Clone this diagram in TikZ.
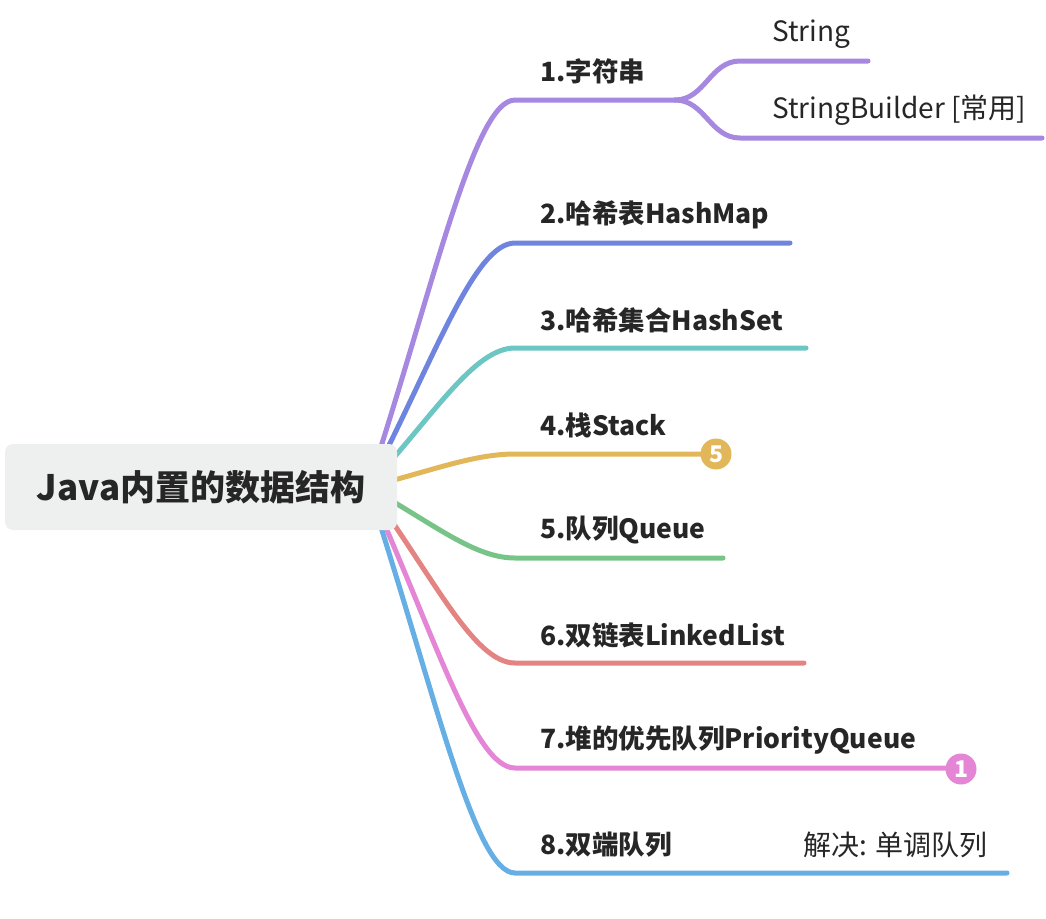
\documentclass[tikz,border=0pt]{standalone}
\usepackage{fontspec}
\setmainfont{Noto Sans CJK SC}
\usetikzlibrary{calc}
\definecolor{txt}{HTML}{262626}
\definecolor{rootfill}{HTML}{EEF0EF}
\definecolor{cA}{HTML}{A688E0}
\definecolor{cB}{HTML}{6E84DE}
\definecolor{cC}{HTML}{6CC6C4}
\definecolor{cD}{HTML}{E2B75A}
\definecolor{cE}{HTML}{78C488}
\definecolor{cF}{HTML}{E38482}
\definecolor{cG}{HTML}{E485D6}
\definecolor{cH}{HTML}{66AFE4}
\tikzset{
  branch/.style={line width=5pt, line cap=round},
  lbl/.style={anchor=west, inner sep=0pt, text=txt, font=\fontsize{26.5}{30}\selectfont\bfseries},
  sublbl/.style={anchor=west, inner sep=0pt, text=txt, font=\fontsize{28}{32}\selectfont},
  rootbox/.style={fill=rootfill, rounded corners=8pt, minimum width=392pt, minimum height=86pt, inner sep=0pt, text=txt, font=\fontsize{35}{40}\selectfont\bfseries},
  badge/.style={circle, minimum size=31pt, inner sep=0pt, text=white, font=\fontsize{23}{25}\selectfont\bfseries}
}
\begin{document}
\begin{tikzpicture}[x=1pt,y=-1pt]
\useasboundingbox (0,0) rectangle (1046,918);
\coordinate (o) at (368,487);
% branch start/end coordinates
\coordinate (s1) at (515,100);  \coordinate (f1) at (675,100);
\coordinate (s2) at (515,243);  \coordinate (e2) at (790,243);
\coordinate (s3) at (515,348);  \coordinate (e3) at (806,348);
\coordinate (s4) at (515,454);  \coordinate (e4) at (705,454);
\coordinate (s5) at (515,558);  \coordinate (e5) at (723,558);
\coordinate (s6) at (515,663);  \coordinate (e6) at (804,663);
\coordinate (s7) at (515,768);  \coordinate (e7) at (950,768);
\coordinate (s8) at (515,873);  \coordinate (e8) at (1007,873);
\coordinate (a1) at (740,61);   \coordinate (ae1) at (868,61);
\coordinate (b1) at (740,138);  \coordinate (be1) at (1042,138);
% connectors
\draw[branch,cA] (o) .. controls (434,286) and (474,100) .. (s1) -- (f1);
\draw[branch,cA] (f1) .. controls (705,100) and (710,61) .. (a1) -- (ae1);
\draw[branch,cA] (f1) .. controls (705,100) and (710,138) .. (b1) -- (be1);
\draw[branch,cB] (o) .. controls (434,360) and (474,243) .. (s2) -- (e2);
\draw[branch,cC] (o) .. controls (434,415) and (474,348) .. (s3) -- (e3);
\draw[branch,cD] (o) .. controls (434,470) and (474,454) .. (s4) -- (e4);
\draw[branch,cE] (o) .. controls (434,524) and (474,558) .. (s5) -- (e5);
\draw[branch,cF] (o) .. controls (434,578) and (474,663) .. (s6) -- (e6);
\draw[branch,cG] (o) .. controls (434,633) and (474,768) .. (s7) -- (e7);
\draw[branch,cH] (o) .. controls (434,688) and (474,873) .. (s8) -- (e8);
% root
\node[rootbox] (root) at (201,487) {Java内置的数据结构};
% labels
\node[lbl] (n1) at (540,71) {1.字符串};
\node[sublbl] (n1a) at (772,34) {String};
\node[sublbl] (n1b) at (772,110) {StringBuilder [常用]};
\node[lbl] (n2) at (540,215) {2.哈希表HashMap};
\node[lbl] (n3) at (540,320) {3.哈希集合HashSet};
\node[lbl] (n4) at (540,425) {4.栈Stack};
\node[lbl] (n5) at (540,530) {5.队列Queue};
\node[lbl] (n6) at (540,635) {6.双链表LinkedList};
\node[lbl] (n7) at (540,740) {7.堆的优先队列PriorityQueue};
\node[lbl] (n8) at (540,845) {8.双端队列};
\node[sublbl] (n8a) at (803,845) {解决: 单调队列};
% badges
\node[badge, fill=cD] (k4) at (716,454) {5};
\node[badge, fill=cG] (k7) at (961,769) {1};
\end{tikzpicture}
\end{document}
